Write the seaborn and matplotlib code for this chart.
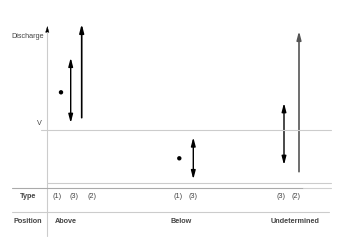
import numpy as np
import seaborn as sns
import matplotlib.pyplot as plt
from matplotlib.patches import FancyArrowPatch

sns.set_style("white")
plt.rcParams['font.family'] = ['Liberation Sans', 'DejaVu Sans']

# discharge in arbitrary units, V level = 10
v_level = 10.0
positions = ["Above", "Below", "Undetermined"]
pos_x = [66, 181, 295]

# type (1): single point
t1_x = [61, 179.3]
t1_q = [13.77, 7.17]

# type (3): range with both ends uncertain
t3_x = [70.7, 193.3, 284]
t3_lo = [10.7, 5.07, 6.5]
t3_hi = [17.23, 9.27, 12.7]

# type (2): open-ended upwards
t2_x = [81.7, 299]
t2_lo = [11.23, 5.83]
t2_hi = [20.6, 19.9]
t2_col = ["black", "#555555"]

type_labels = ["(1)", "(3)", "(2)", "(1)", "(3)", "(3)", "(2)"]
type_x = [56.7, 74.3, 92, 178, 193, 281, 296]

fig = plt.figure(figsize=(3.51, 2.48), dpi=100)
ax = fig.add_axes([0, 0, 1, 1])
ax.set_xlim(0, 351)
ax.set_ylim(-1.8, 23)
ax.axis("off")

# frame lines
ax.plot([47.3, 47.3], [-0.6, 19.8], color="#cccccc", lw=0.8)
ax.add_patch(FancyArrowPatch((47.3, 19.5), (47.3, 20.4), arrowstyle="-|>,head_length=0.4,head_width=0.12",
                             mutation_scale=10, color="black", lw=0.3, shrinkA=0, shrinkB=0))
ax.plot([41, 331], [v_level, v_level], color="#cccccc", lw=0.8)
ax.plot([47.3, 331], [4.7, 4.7], color="#cccccc", lw=0.8)
ax.plot([12, 303], [4.2, 4.2], color="#aaaaaa", lw=0.8)
ax.plot([303, 331], [4.2, 4.2], color="#d0d0d0", lw=0.8)
ax.plot([12, 329], [1.8, 1.8], color="#cccccc", lw=0.8)

sns.scatterplot(x=t1_x, y=t1_q, ax=ax, color="black", s=10, edgecolor="none")

for x, lo, hi in zip(t3_x, t3_lo, t3_hi):
    ax.add_patch(FancyArrowPatch((x, lo), (x, hi), arrowstyle="<|-|>,head_length=0.5,head_width=0.13",
                                 mutation_scale=10, color="black", lw=1.0, shrinkA=0, shrinkB=0))
for x, lo, hi, c in zip(t2_x, t2_lo, t2_hi, t2_col):
    ax.add_patch(FancyArrowPatch((x, lo), (x, hi), arrowstyle="-|>,head_length=0.5,head_width=0.13",
                                 mutation_scale=10, color=c, lw=1.2, shrinkA=0, shrinkB=0))

fs = 5.2
tc = "#444444"
ax.text(43.5, 19.4, "Discharge", ha="right", va="center", fontsize=fs, color=tc)
ax.text(39.3, 10.67, "V", ha="center", va="center", fontsize=fs, color=tc)
ax.text(28, 3.3, "Type", ha="center", va="center", fontsize=fs, color=tc, fontweight="bold")
ax.text(28.3, 0.83, "Position", ha="center", va="center", fontsize=fs, color=tc, fontweight="bold")
for lab, x in zip(type_labels, type_x):
    ax.text(x, 3.3, lab, ha="center", va="center", fontsize=fs, color=tc)
for lab, x in zip(positions, pos_x):
    ax.text(x, 0.83, lab, ha="center", va="center", fontsize=fs, color=tc, fontweight="bold")

fig.savefig("out.png", dpi=100)
